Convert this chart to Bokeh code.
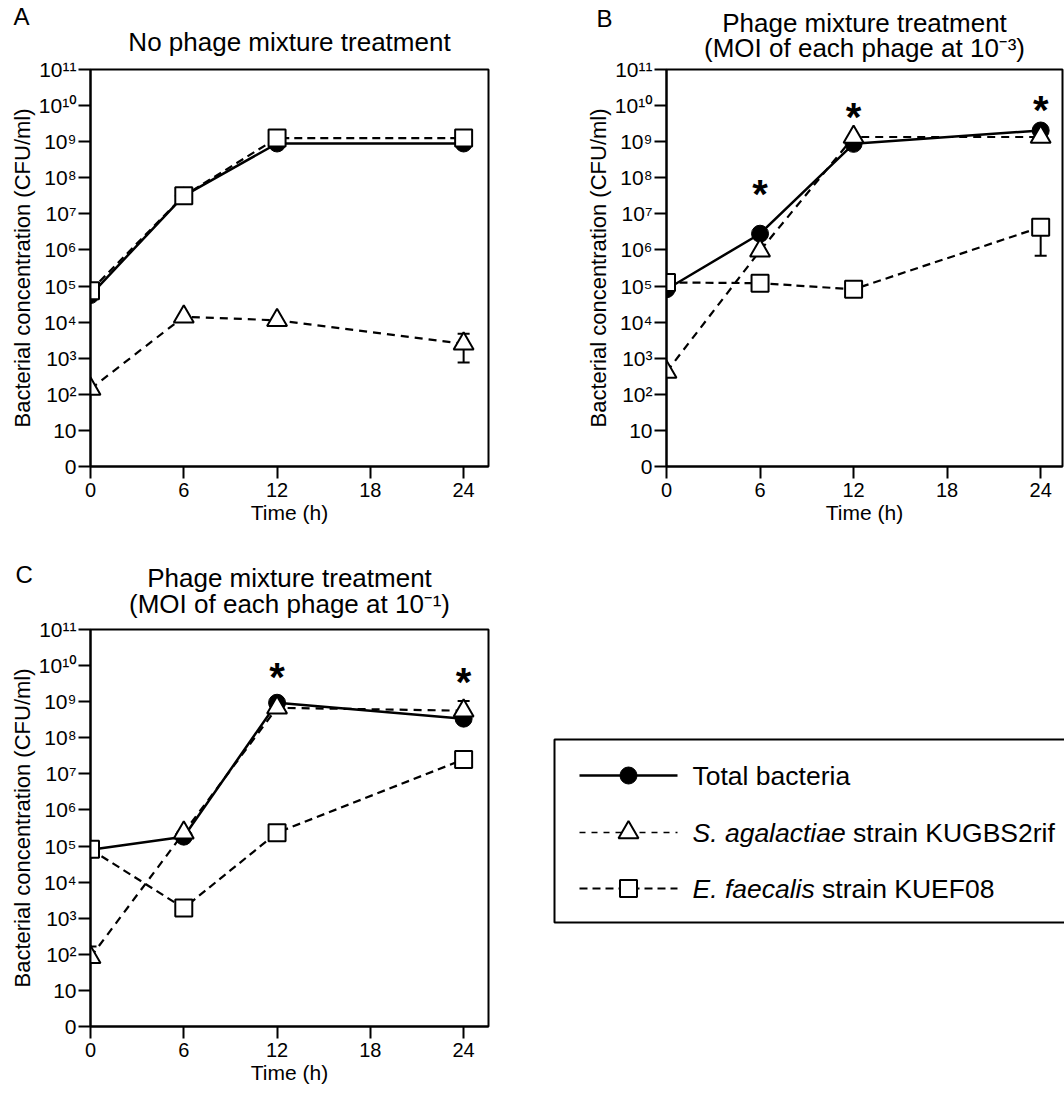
from bokeh.plotting import figure
from bokeh.layouts import column, row
from bokeh.models import (Range1d, FixedTicker, Title, Whisker, TeeHead,
                          ColumnDataSource)
from bokeh.embed import file_html
from bokeh.resources import INLINE
from bokeh.core.properties import value

FONT = "Liberation Sans"
TICK_FONT = "Liberation Sans, Noto Sans, DejaVu Sans"

# ---------------- data (log10 CFU/ml) ----------------
time_h = [0, 6, 12, 24]
x_ticks = [0, 6, 12, 18, 24]
y_ticks = list(range(12))
y_tick_labels = ["0", "10", "10²", "10³", "10⁴", "10⁵", "10⁶", "10⁷",
                 "10⁸", "10⁹", "10¹⁰", "10¹¹"]

total_A = [4.75, 7.50, 8.95, 8.95]
agal_A = [2.15, 4.15, 4.05, 3.40]
faec_A = [4.87, 7.50, 9.10, 9.10]

total_B = [4.91, 6.45, 8.94, 9.31]
agal_B = [2.62, 5.98, 9.13, 9.13]
faec_B = [5.10, 5.08, 4.91, 6.63]

total_C = [4.90, 5.26, 8.97, 8.53]
agal_C = [1.92, 5.37, 8.83, 8.75]
faec_C = [4.91, 3.28, 5.37, 7.40]

# error bars: time, lower, upper (log10)
errA_t, errA_lo, errA_hi = [24], [2.88], [3.68]                  # S. agalactiae
errB_t, errB_lo, errB_hi = [24], [5.84], [6.63]                  # E. faecalis
errC_t, errC_lo, errC_hi = [0, 24], [1.92, 8.75], [2.22, 9.02]   # S. agalactiae

# significance asterisks
starB_t, starB_y = [6, 12, 24], [7.83, 9.96, 10.15]
starC_t, starC_y = [12, 24], [9.96, 9.81]

title_A = ["No phage mixture treatment"]
title_B = ["Phage mixture treatment", "(MOI of each phage at 10⁻³)"]
title_C = ["Phage mixture treatment", "(MOI of each phage at 10⁻¹)"]

legend_labels = [("", "Total bacteria"),
                 ("S. agalactiae", "strain KUGBS2rif"),
                 ("E. faecalis", "strain KUEF08")]

TRI_DASH = "8 6"
SQ_DASH = "8 5"


def make_panel(letter, titles, total, agal, faec, width, height,
               bl, br, bt, bb, x_end, letter_offset, title_standoffs,
               letter_standoff, err=None, err_upper_head=True, stars=None):
    p = figure(width=width, height=height, x_range=Range1d(0, x_end),
               y_range=Range1d(0, 11), output_backend="svg",
               toolbar_location=None, title=None,
               min_border_left=bl, min_border_right=br,
               min_border_top=bt, min_border_bottom=bb)
    p.background_fill_color = "white"
    p.border_fill_color = "white"
    p.outline_line_color = "black"
    p.outline_line_width = 2
    p.outline_line_alpha = 1
    p.xgrid.visible = False
    p.ygrid.visible = False

    # titles (first added = nearest to frame)
    for t, so in zip(reversed(titles), title_standoffs):
        p.add_layout(Title(text=t, align="center", text_font=TICK_FONT,
                           text_font_size="26px", text_font_style="normal",
                           text_color="black", standoff=so), "above")
    # panel letter (outermost)
    p.add_layout(Title(text=letter, align="left", offset=letter_offset,
                       standoff=letter_standoff,
                       text_font=FONT, text_font_size="24px",
                       text_font_style="normal", text_color="black"), "above")

    for ax in (p.xaxis[0], p.yaxis[0]):
        ax.axis_line_width = 2
        ax.axis_line_color = "black"
        ax.major_tick_line_width = 2
        ax.major_tick_line_color = "black"
        ax.major_tick_out = 12
        ax.major_tick_in = 0
        ax.minor_tick_out = 0
        ax.minor_tick_in = 0
        ax.major_label_text_font = TICK_FONT
        ax.major_label_text_color = "black"
        ax.axis_label_text_font = FONT
        ax.axis_label_text_font_style = "normal"
        ax.axis_label_text_color = "black"

    p.xaxis.ticker = FixedTicker(ticks=x_ticks, minor_ticks=[])
    p.xaxis.major_label_text_font_size = "20px"
    p.xaxis.axis_label = "Time (h)"
    p.xaxis.axis_label_text_font_size = "21px"
    p.xaxis.major_label_standoff = 4
    p.xaxis.axis_label_standoff = 1

    p.yaxis.ticker = FixedTicker(ticks=y_ticks, minor_ticks=[])
    p.yaxis.major_label_text_font_size = "21px"
    p.yaxis.major_label_overrides = {i: lab for i, lab in zip(y_ticks, y_tick_labels)}
    p.yaxis.axis_label = "Bacterial concentration (CFU/ml)"
    p.yaxis.axis_label_text_font_size = "22px"
    p.yaxis.major_label_standoff = 2
    p.yaxis.axis_label_standoff = 1

    # error bars
    if err is not None:
        t, lo, hi = err
        src = ColumnDataSource(dict(base=t, lower=lo, upper=hi))
        w = Whisker(source=src, base="base", lower="lower", upper="upper",
                    dimension="height", line_color="black", line_width=2,
                    level="underlay",
                    lower_head=TeeHead(size=12, line_width=2, line_color="black"),
                    upper_head=(TeeHead(size=12, line_width=2, line_color="black")
                                if err_upper_head else None))
        p.add_layout(w)

    # lines
    p.line(time_h, total, line_color="black", line_width=2.5)
    p.line(time_h, agal, line_color="black", line_width=2.2, line_dash=TRI_DASH)
    p.line(time_h, faec, line_color="black", line_width=2.2, line_dash=SQ_DASH)
    # markers
    p.scatter(time_h, total, marker="circle", size=17, fill_color="black",
              line_color="black", line_width=1)
    p.scatter(time_h, agal, marker="triangle", size=20, fill_color="white",
              line_color="black", line_width=2)
    p.scatter(time_h, faec, marker="square", size=17, fill_color="white",
              line_color="black", line_width=2)

    if stars is not None:
        st, sy = stars
        p.text(x=st, y=sy, text=["*"] * len(st), text_font=value(FONT),
               text_font_size="40px", text_font_style="bold",
               text_align="center", text_baseline="middle", y_offset=10,
               text_color="black")
    return p


# page layout (pixels, content origin at the page's top-left)
ROW1_H = 545
ROW2_TOP = ROW1_H
ROW2_H = 547
C_BT, C_BB = 84, 66
C_FRAME_TOP = ROW2_TOP + C_BT           # 629
C_FRAME_BOT = ROW2_TOP + ROW2_H - C_BB  # 1026
W_LEFT, W_RIGHT = 528, 536

pA = make_panel("A", title_A, total_A, agal_A, faec_A, W_LEFT, ROW1_H,
                90, 40, 69, 79, 25.6, -77, [26], -37,
                err=(errA_t, errA_lo, errA_hi))
pB = make_panel("B", title_B, total_B, agal_B, faec_B, W_RIGHT, ROW1_H,
                138, 2, 69, 79, 25.4, -70, [13, -27], -25,
                err=(errB_t, errB_lo, errB_hi), err_upper_head=False,
                stars=(starB_t, starB_y))
pC = make_panel("C", title_C, total_C, agal_C, faec_C, W_LEFT, ROW2_H,
                90, 40, C_BT, C_BB, 25.6, -75, [21, -33], -23,
                err=(errC_t, errC_lo, errC_hi),
                stars=(starC_t, starC_y))

# ---------------- legend panel (coordinates = page pixels) ----------------
LX0 = W_LEFT
LX1 = LX0 + W_RIGHT
pL = figure(width=W_RIGHT, height=ROW2_H,
            x_range=Range1d(LX0, LX1), y_range=Range1d(C_FRAME_BOT, C_FRAME_TOP),
            output_backend="svg", toolbar_location=None, title=None,
            x_axis_location=None, y_axis_location=None,
            min_border_left=0, min_border_right=0, min_border_top=C_BT,
            min_border_bottom=C_BB)
pL.outline_line_color = None
pL.background_fill_color = "white"
pL.border_fill_color = "white"
pL.grid.visible = False

box_l, box_r, box_t, box_b = 554, 1090, 739, 922
row_y = [775, 832, 888]
s0, s1, sm = 579, 677, 628
tx = 692
LEG_FS = 26.5

pL.quad(left=[box_l], right=[box_r], top=[box_t], bottom=[box_b],
        fill_alpha=0, line_color="black", line_width=2)

pL.line([s0, s1], [row_y[0]] * 2, line_color="black", line_width=2.5)
pL.scatter([sm], [row_y[0]], marker="circle", size=17, fill_color="black",
           line_color="black")
pL.line([s0, s1], [row_y[1]] * 2, line_color="black", line_width=1.4,
        line_dash="6 6")
pL.scatter([sm], [row_y[1]], marker="triangle", size=20, fill_color="white",
           line_color="black", line_width=2)
pL.line([s0, s1], [row_y[2]] * 2, line_color="black", line_width=2,
        line_dash="8 5")
pL.scatter([sm], [row_y[2]], marker="square", size=17, fill_color="white",
           line_color="black", line_width=2)

# Arial/Liberation advance widths (per 1000 em) for placing mixed-style text
ADV = {"S": 667, ".": 278, " ": 278, "a": 556, "g": 556, "l": 222, "c": 500,
       "t": 278, "i": 222, "e": 556, "E": 667, "f": 278, "s": 500}


def text_w(s):
    return sum(ADV.get(ch, 556) for ch in s) * LEG_FS / 1000.0


for yy, (ital, normal) in zip(row_y, legend_labels):
    x0 = tx
    if ital:
        pL.text(x=[x0], y=[yy], text=[ital], text_font=value(FONT),
                text_font_size=f"{LEG_FS}px", text_font_style="italic",
                text_baseline="middle", text_align="left", text_color="black")
        x0 = tx + text_w(ital + " ")
    pL.text(x=[x0], y=[yy], text=[normal], text_font=value(FONT),
            text_font_size=f"{LEG_FS}px", text_baseline="middle",
            text_align="left", text_color="black")

layout = column(row(pA, pB), row(pC, pL))
open("out.html", "w").write(file_html(layout, INLINE))
